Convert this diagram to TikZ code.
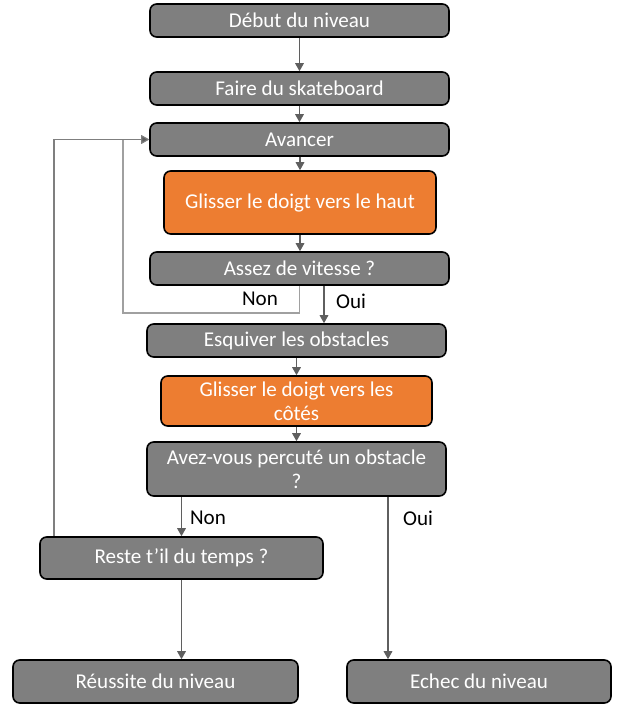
\documentclass[tikz,border=0pt]{standalone}
\usepackage{fontspec}
\setmainfont{Carlito}
\usetikzlibrary{arrows.meta}
\definecolor{boxgray}{HTML}{7F7F7F}
\definecolor{boxorange}{HTML}{ED7D31}
\definecolor{linegray}{HTML}{5F5F5F}
\definecolor{loopgray}{HTML}{A0A0A0}
\tikzset{
  bx/.style 2 args={draw=black, line width=1.2pt, rounded corners=5pt,
    minimum width=#1*0.75pt, minimum height=#2*0.75pt, inner sep=2pt,
    text=white, align=center, font=\fontsize{15.8}{18}\selectfont},
  gbox/.style={fill=boxgray},
  obox/.style={fill=boxorange},
  arr/.style={draw=linegray, line width=0.8pt, -{Triangle[width=6.5pt,length=6pt]}},
  looparr/.style={draw=loopgray, line width=0.8pt, -{Triangle[width=6.5pt,length=6pt,fill=linegray]}},
  lbl/.style={text=black, font=\fontsize{15.8}{18}\selectfont, inner sep=0pt}
}
\begin{document}
\begin{tikzpicture}[x=0.75pt, y=-0.75pt]
\useasboundingbox (0,0) rectangle (628,720);
\node[bx={299}{33}, gbox] (n1) at (299.5,20.5) {Début du niveau};
\node[bx={299}{33}, gbox] (n2) at (299.5,88.5) {Faire du skateboard};
\node[bx={299}{33}, gbox] (n3) at (299.5,139.5) {Avancer};
\node[bx={272}{63}, obox] (n4) at (300,202.5) {Glisser le doigt vers le haut};
\node[bx={299}{33}, gbox] (n5) at (299.5,268.5) {Assez de vitesse ?};
\node[bx={299}{33}, gbox] (n6) at (296.5,340.5) {Esquiver les obstacles};
\node[bx={271}{50}, obox] (n7) at (296.5,401) {Glisser le doigt vers les\\côtés};
\node[bx={299}{54}, gbox] (n8) at (296.5,469) {Avez-vous percuté un obstacle\\?};
\node[bx={283}{42}, gbox] (n9) at (181.5,558) {Reste t’il du temps ?};
\node[bx={285}{43}, gbox] (n10) at (155.5,681.5) {Réussite du niveau};
\node[bx={264}{43}, gbox] (n11) at (479,681.5) {Echec du niveau};

\coordinate (xoui) at (324,0);
\coordinate (xoui2) at (388,0);
\coordinate (cnon) at (123,313);
\coordinate (xloop) at (54,0);

\draw[arr] (n1.south) -- (n2.north);
\draw[arr] (n2.south) -- (n3.north);
\draw[arr] (n3.south -| n4.north) -- (n4.north);
\draw[arr] (n4.south) -- (n5.north -| n4.south);
\draw[looparr] (n5.south) |- (cnon) |- (n3.west);
\draw[arr] (n5.south -| xoui) -- (n6.north -| xoui);
\draw[arr] (n6.south) -- (n7.north);
\draw[arr] (n7.south) -- (n8.north);
\draw[arr] (n8.south -| n9.north) -- (n9.north);
\draw[arr] (n8.south -| xoui2) -- (n11.north -| xoui2);
\draw[arr] (n9.south) -- (n10.north -| n9.south);
\draw[draw=linegray!80, line width=0.8pt, -{Triangle[width=6.5pt,length=6pt,fill=linegray]}] (n9.north -| xloop) |- (n3.west);

\node[lbl] (lnon1) at (260,299) {Non};
\node[lbl] (loui1) at (351,301) {Oui};
\node[lbl] (lnon2) at (208,518) {Non};
\node[lbl] (loui2) at (418,518) {Oui};
\end{tikzpicture}
\end{document}
